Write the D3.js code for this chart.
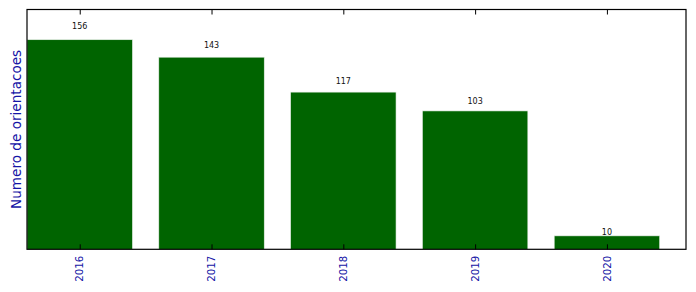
<!DOCTYPE html>
<html>
<head>
<meta charset="utf-8">
<script src="https://cdn.jsdelivr.net/npm/d3@7"></script>
<style>
  html, body { margin: 0; padding: 0; background: #fff; }
  svg { display: block; font-family: "DejaVu Sans", sans-serif; }
</style>
</head>
<body>
<svg id="chart"></svg>
<script>
// data
var years = ["2016", "2017", "2018", "2019", "2020"];
var counts = [156, 143, 117, 103, 10];

var outerWidth = 696,
    outerHeight = 292;
var margins = { left: 27, top: 9.5, right: 10, bottom: 42.7 };
var innerWidth = outerWidth - margins.left - margins.right,
    innerHeight = outerHeight - margins.top - margins.bottom;

var labelBlue = "#1414a6";

var svg = d3.select("svg#chart")
    .attr("width", outerWidth)
    .attr("height", outerHeight);

var g = svg.append("g")
    .attr("transform", "translate(" + margins.left + "," + margins.top + ")");

// bars are 0.8 wide, centered on their index, like matplotlib
var x = d3.scaleLinear()
    .domain([-0.4, years.length - 0.4])
    .range([0, innerWidth]);

var y = d3.scaleLinear()
    .domain([0, 178.5])
    .range([innerHeight, 0]);

// bars
g.selectAll("rect.bar")
    .data(counts)
    .enter()
    .append("rect")
    .attr("class", "bar")
    .attr("x", (d, i) => x(i - 0.4))
    .attr("width", (d, i) => x(i + 0.4) - x(i - 0.4))
    .attr("y", d => y(d))
    .attr("height", d => innerHeight - y(d))
    .attr("fill", "#006400")
    .attr("stroke", "#e8efe8")
    .attr("stroke-width", 0.6);

// value labels just above each bar
g.selectAll("text.value")
    .data(counts)
    .enter()
    .append("text")
    .attr("class", "value")
    .attr("x", (d, i) => x(i))
    .attr("y", d => y(1.05 * d))
    .attr("text-anchor", "middle")
    .attr("font-size", "8px")
    .attr("fill", "#111")
    .text(d => d);

// bottom axis ticks pointing in, labels drawn separately (rotated)
var ticks = d3.range(years.length);
var gx = g.append("g")
    .attr("transform", "translate(0," + innerHeight + ")")
    .call(d3.axisBottom(x).tickValues(ticks).tickSize(-5).tickFormat(""));
gx.select(".domain").remove();
gx.selectAll(".tick line").attr("stroke", "#000");
gx.selectAll(".tick text").remove();

g.selectAll("text.year")
    .data(years)
    .enter()
    .append("text")
    .attr("class", "year")
    .attr("transform", (d, i) => "translate(" + x(i) + "," + (innerHeight + 6.5) + ") rotate(-90)")
    .attr("text-anchor", "end")
    .attr("dy", "0.36em")
    .attr("font-size", "10.2px")
    .attr("fill", labelBlue)
    .text(d => d);

// top axis ticks, no labels
var gTop = g.append("g")
    .call(d3.axisTop(x).tickValues(ticks).tickSize(-5).tickFormat(""));
gTop.select(".domain").remove();
gTop.selectAll(".tick line").attr("stroke", "#000");
gTop.selectAll(".tick text").remove();

// frame
g.append("rect")
    .attr("x", 0)
    .attr("y", 0)
    .attr("width", innerWidth)
    .attr("height", innerHeight)
    .attr("fill", "none")
    .attr("stroke", "#000")
    .attr("stroke-width", 1.2);

// y axis title
svg.append("text")
    .attr("text-anchor", "middle")
    .attr("font-size", "13.6px")
    .attr("fill", labelBlue)
    .attr("transform", "translate(20.5," + (margins.top + innerHeight / 2) + ") rotate(-90)")
    .text("Numero de orientacoes");
</script>
</body>
</html>
